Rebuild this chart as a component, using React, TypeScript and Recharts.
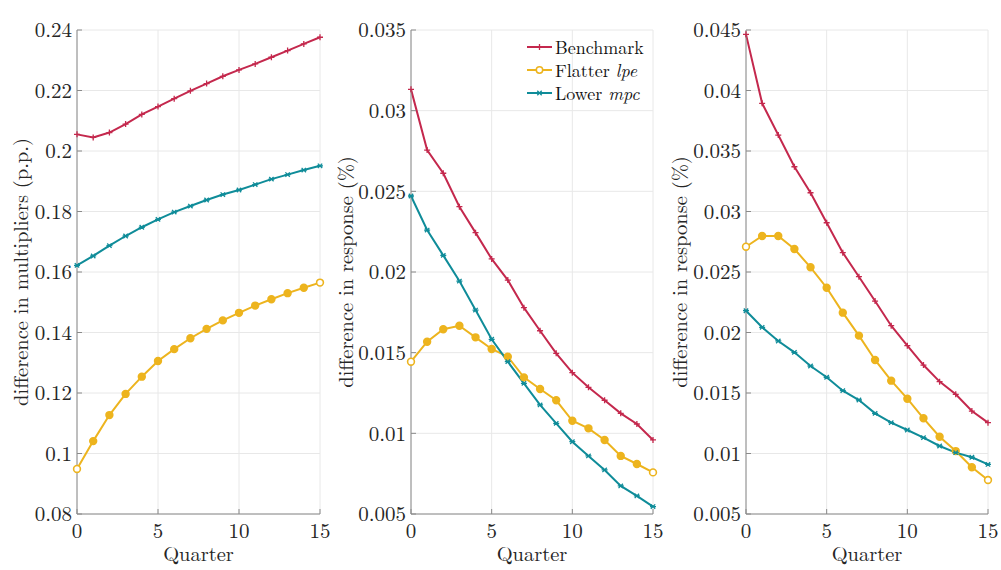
import React from "react";
import { LineChart, Line, XAxis, YAxis, CartesianGrid, Legend } from "recharts";

const quarters = [0, 1, 2, 3, 4, 5, 6, 7, 8, 9, 10, 11, 12, 13, 14, 15];
const xTicks = [0, 5, 10, 15];

const omBench = [0.2055, 0.2045, 0.2061, 0.2089, 0.2121, 0.2147, 0.2173, 0.2199, 0.2223, 0.2247, 0.2268, 0.2288, 0.231, 0.2332, 0.2354, 0.2376];
const omFlat = [0.0949, 0.1041, 0.1127, 0.1197, 0.1254, 0.1306, 0.1345, 0.1381, 0.1412, 0.144, 0.1465, 0.1489, 0.151, 0.153, 0.1548, 0.1565];
const omLow = [0.1622, 0.1653, 0.1687, 0.1719, 0.1748, 0.1774, 0.1798, 0.1818, 0.1838, 0.1856, 0.1871, 0.1889, 0.1907, 0.1922, 0.1937, 0.1951];

const labBench = [0.03132, 0.02756, 0.02612, 0.02405, 0.02244, 0.02081, 0.0195, 0.01779, 0.01636, 0.01496, 0.01376, 0.01285, 0.01205, 0.01124, 0.01058, 0.00959];
const labFlat = [0.01444, 0.01568, 0.01645, 0.01667, 0.01595, 0.01523, 0.01475, 0.01347, 0.01275, 0.01205, 0.01078, 0.01031, 0.00959, 0.0086, 0.0081, 0.00758];
const labLow = [0.02471, 0.0226, 0.02103, 0.01944, 0.01764, 0.01583, 0.01444, 0.0131, 0.01176, 0.01062, 0.00948, 0.0086, 0.00773, 0.00674, 0.00612, 0.00546];

const conBench = [0.04464, 0.03894, 0.03632, 0.0337, 0.03155, 0.02907, 0.0266, 0.02461, 0.0226, 0.02056, 0.01891, 0.01731, 0.01594, 0.01489, 0.01351, 0.01255];
const conFlat = [0.02709, 0.02798, 0.02798, 0.0269, 0.02539, 0.0237, 0.02164, 0.01974, 0.01773, 0.01602, 0.01453, 0.01291, 0.01139, 0.0102, 0.00886, 0.00781];
const conLow = [0.0218, 0.02043, 0.0193, 0.01836, 0.01723, 0.0163, 0.01519, 0.01442, 0.01332, 0.01255, 0.01194, 0.01131, 0.01062, 0.01007, 0.00969, 0.0091];

const omTicks = [0.08, 0.1, 0.12, 0.14, 0.16, 0.18, 0.2, 0.22, 0.24];
const labTicks = [0.005, 0.01, 0.015, 0.02, 0.025, 0.03, 0.035];
const conTicks = [0.005, 0.01, 0.015, 0.02, 0.025, 0.03, 0.035, 0.04, 0.045];

const RED = "#C4284D";
const YEL = "#EDB41E";
const TEAL = "#0F8C99";
const AXIS = "#8a8a8a";
const FONT = "Latin Modern Roman, Liberation Serif, serif";

const build = (a: number[], b: number[], c: number[]) =>
  quarters.map((q, i) => ({ q, bench: a[i], flat: b[i], low: c[i] }));

const fmt = (v: number) => String(Number(v.toFixed(4)));

const PlusDot = (p: any) => {
  const { cx, cy } = p;
  if (cx == null || cy == null) return <g key={p.key} />;
  return (
    <path key={p.key} d={`M${cx - 3},${cy}H${cx + 3}M${cx},${cy - 3}V${cy + 3}`} stroke={RED} strokeWidth={1.3} fill="none" />
  );
};
const CircleDot = (p: any) => {
  const { cx, cy, index } = p;
  if (cx == null || cy == null) return <g key={p.key} />;
  const end = index === 0 || index === quarters.length - 1;
  return <circle key={p.key} cx={cx} cy={cy} r={3.4} stroke={YEL} strokeWidth={1.6} fill={end ? "#fff" : YEL} />;
};
const StarDot = (p: any) => {
  const { cx, cy } = p;
  if (cx == null || cy == null) return <g key={p.key} />;
  return (
    <path
      key={p.key}
      d={`M${cx - 3},${cy}H${cx + 3}M${cx - 2.2},${cy - 2.2}L${cx + 2.2},${cy + 2.2}M${cx - 2.2},${cy + 2.2}L${cx + 2.2},${cy - 2.2}`}
      stroke={TEAL}
      strokeWidth={1.3}
      fill="none"
    />
  );
};

const YLabel = (props: any) => {
  const { viewBox, text, dx } = props;
  const cx = viewBox.x + dx;
  const cy = viewBox.y + viewBox.height / 2;
  return (
    <text x={cx} y={cy} transform={`rotate(-90, ${cx}, ${cy})`} textAnchor="middle" dominantBaseline="central" fontFamily={FONT} fontSize={20.5} fill="#262626">
      {text}
    </text>
  );
};
const XLabel = (props: any) => {
  const { viewBox } = props;
  return (
    <text x={viewBox.x + viewBox.width / 2} y={viewBox.y + 47} textAnchor="middle" fontFamily={FONT} fontSize={20.5} fill="#262626">
      Quarter
    </text>
  );
};
const TitleLabel = (props: any) => {
  const { viewBox, text } = props;
  return (
    <text x={viewBox.x + viewBox.width / 2} y={20} textAnchor="middle" fontFamily={FONT} fontSize={20.5} fill="#111">
      {text}
    </text>
  );
};

const LegendBox = () => {
  const rows = [
    { c: RED, m: "plus", t: <>Benchmark</> },
    { c: YEL, m: "circle", t: <>Flatter <i>lpe</i></> },
    { c: TEAL, m: "star", t: <>Lower <i>mpc</i></> },
  ];
  return (
    <div style={{ fontFamily: FONT, fontSize: 18, color: "#111" }}>
      {rows.map((r, i) => (
        <div key={i} style={{ display: "flex", alignItems: "center", height: 23.3 }}>
          <svg width={26} height={12} style={{ marginRight: 2 }}>
            <line x1={0} y1={6} x2={25} y2={6} stroke={r.c} strokeWidth={2} />
            {r.m === "plus" && <path d="M9.5,6H15.5M12.5,3V9" stroke={r.c} strokeWidth={1.3} />}
            {r.m === "circle" && <circle cx={12.5} cy={6} r={3.2} stroke={r.c} strokeWidth={1.5} fill="#fff" />}
            {r.m === "star" && <path d="M9.5,6H15.5M10.3,3.8L14.7,8.2M10.3,8.2L14.7,3.8" stroke={r.c} strokeWidth={1.3} />}
          </svg>
          <span style={{ lineHeight: "18px" }}>{r.t}</span>
        </div>
      ))}
    </div>
  );
};

type PanelProps = {
  left: number;
  width: number;
  yWidth: number;
  right: number;
  title: string;
  ylabel: string;
  ylabelDx: number;
  data: any[];
  ticks: number[];
  domain: [number, number];
  legend?: boolean;
};

const tickStyle = { fontFamily: FONT, fontSize: 21, fill: "#262626" };

const Panel = (p: PanelProps) => (
  <div style={{ position: "absolute", left: p.left, top: 0 }}>
    <LineChart width={p.width} height={570} data={p.data} margin={{ top: 30, right: p.right, bottom: 0, left: 0 }}>
      <CartesianGrid stroke="#e8e8e8" strokeWidth={1} vertical horizontal />
      <XAxis
        dataKey="q"
        type="number"
        domain={[0, 15]}
        ticks={xTicks}
        interval={0}
        height={56}
        stroke={AXIS}
        tickSize={-5}
        tickMargin={14}
        tick={tickStyle}
        label={<XLabel />}
      />
      <XAxis
        xAxisId="top"
        orientation="top"
        dataKey="q"
        type="number"
        domain={[0, 15]}
        ticks={xTicks}
        interval={0}
        height={0}
        stroke={AXIS}
        tickSize={-5}
        tick={false}
        label={<TitleLabel text={p.title} />}
      />
      <YAxis
        type="number"
        domain={p.domain}
        ticks={p.ticks}
        interval={0}
        width={p.yWidth}
        stroke={AXIS}
        tickSize={-5}
        tickMargin={10}
        tick={tickStyle}
        tickFormatter={fmt}
        label={<YLabel text={p.ylabel} dx={p.ylabelDx} />}
      />
      <YAxis
        yAxisId="right"
        orientation="right"
        type="number"
        domain={p.domain}
        ticks={p.ticks}
        interval={0}
        width={0}
        stroke={AXIS}
        tickSize={-5}
        tick={false}
      />
      {p.legend && (
        <Legend
          layout="vertical"
          align="center"
          verticalAlign="middle"
          wrapperStyle={{ left: 197, top: 35, width: 130 }}
          content={<LegendBox />}
        />
      )}
      <Line dataKey="bench" stroke={RED} strokeWidth={2} dot={PlusDot} isAnimationActive={false} />
      <Line dataKey="flat" stroke={YEL} strokeWidth={2} dot={CircleDot} isAnimationActive={false} />
      <Line dataKey="low" stroke={TEAL} strokeWidth={2} dot={StarDot} isAnimationActive={false} />
    </LineChart>
  </div>
);

export default function App() {
  return (
    <div style={{ position: "absolute", left: 0, top: 0, width: 1001, height: 570, background: "#fff" }}>
      <Panel left={0} width={330} yWidth={77} right={10} title="Output Multiplier" ylabel="difference in multipliers (p.p.)" ylabelDx={19} data={build(omBench, omFlat, omLow)} ticks={omTicks} domain={[0.08, 0.24]} />
      <Panel left={330} width={335} yWidth={81} right={12} title="Labor" ylabel="difference in response (%)" ylabelDx={14} data={build(labBench, labFlat, labLow)} ticks={labTicks} domain={[0.005, 0.035]} legend />
      <Panel left={665} width={336} yWidth={81} right={13} title="Consumption" ylabel="difference in response (%)" ylabelDx={13} data={build(conBench, conFlat, conLow)} ticks={conTicks} domain={[0.005, 0.045]} />
    </div>
  );
}
